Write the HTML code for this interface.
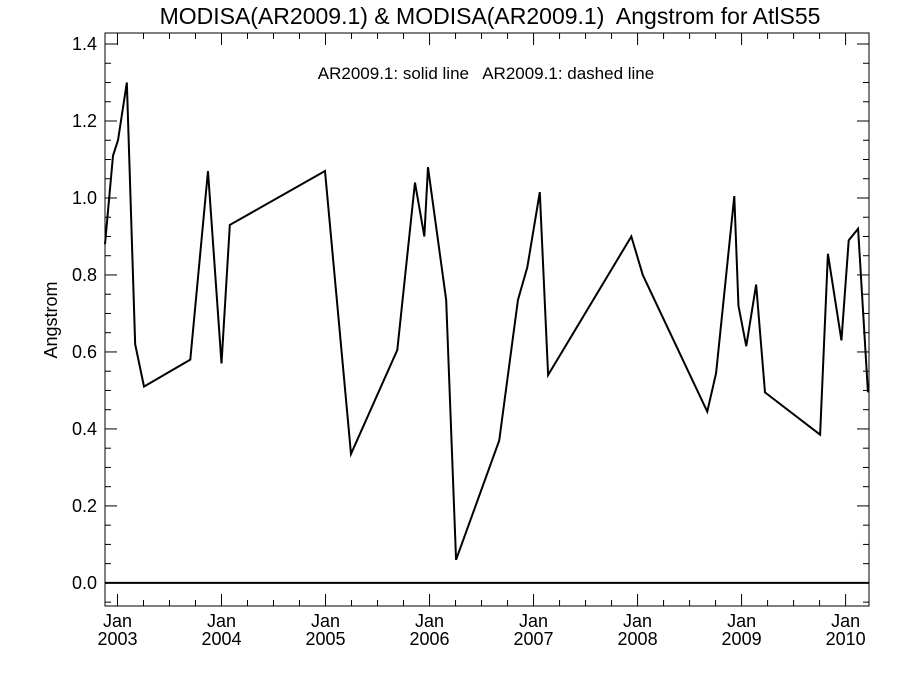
<!DOCTYPE html>
<html><head><meta charset="utf-8"><style>body{margin:0;background:#fff}svg{display:block;font-family:"Liberation Sans",sans-serif}text{white-space:pre}</style></head>
<body>
<svg id="c" width="900" height="675">
<text x="490" y="24" font-size="23" text-anchor="middle">MODISA(AR2009.1) &amp; MODISA(AR2009.1)  Angstrom for AtlS55</text>
<text x="486" y="79" font-size="17" text-anchor="middle">AR2009.1: solid line   AR2009.1: dashed line</text>
<text transform="translate(57,320) rotate(-90)" font-size="18" text-anchor="middle">Angstrom</text>
</svg>
<script>
const times=[2002.88,2002.957,2003.005,2003.09,2003.17,2003.255,2003.70,2003.87,2004.0,2004.08,2004.995,2005.245,2005.69,2005.86,2005.95,2005.985,2006.16,2006.255,2006.67,2006.85,2006.94,2007.06,2007.14,2007.94,2008.05,2008.67,2008.755,2008.93,2008.97,2009.045,2009.14,2009.225,2009.755,2009.83,2009.96,2010.03,2010.12,2010.215];
const values=[0.88,1.11,1.15,1.30,0.62,0.51,0.58,1.07,0.57,0.93,1.07,0.335,0.605,1.04,0.90,1.08,0.735,0.06,0.37,0.735,0.82,1.015,0.54,0.90,0.80,0.445,0.545,1.005,0.72,0.615,0.775,0.495,0.385,0.855,0.63,0.89,0.92,0.495];
const yTicks=[0,0.2,0.4,0.6,0.8,1.0,1.2,1.4];
const yearTicks=[2003,2004,2005,2006,2007,2008,2009,2010];
const L=105,R=869,T=33,B=606,X0=2002.88,X1=2010.225,Y0=-0.06,Y1=1.4286;
const sx=t=>L+(t-X0)/(X1-X0)*(R-L), sy=v=>B-(v-Y0)/(Y1-Y0)*(B-T);
const svg=document.getElementById('c'),NS='http://www.w3.org/2000/svg';
function mk(tag,a){const e=document.createElementNS(NS,tag);for(const k in a)e.setAttribute(k,a[k]);svg.appendChild(e);return e;}
const fr=mk('rect',{x:L,y:T,width:R-L,height:B-T,fill:'none',stroke:'#000','stroke-width':1});


for(let v=-0.05;v<=1.43;v+=0.05){const vv=Math.round(v*100)/100;const maj=Math.abs(vv*5-Math.round(vv*5))<1e-6;const len=maj?12:6;const y=sy(vv);
const t1=mk('line',{x1:L,x2:L+len,y1:y,y2:y,stroke:'#000'});
const t2=mk('line',{x1:R-len,x2:R,y1:y,y2:y,stroke:'#000'});}
yTicks.forEach(v=>{const t=mk('text',{x:L-8,y:sy(v)+6,'font-size':18,'text-anchor':'end'});t.textContent=v.toFixed(1);});
for(let q=2003-0.25;q<=2010.25;q+=0.25){const x=sx(q);if(x<L||x>R)continue;const maj=Math.abs(q-Math.round(q))<1e-6;const len=maj?12:6;
const a=mk('line',{x1:x,x2:x,y1:B,y2:B-len,stroke:'#000'});
const b=mk('line',{x1:x,x2:x,y1:T,y2:T+len,stroke:'#000'});}
yearTicks.forEach(yr=>{const x=sx(yr);const t=mk('text',{x:x,y:B+21,'font-size':18,'text-anchor':'middle'});t.textContent='Jan';
const t2=mk('text',{x:x,y:B+39,'font-size':18,'text-anchor':'middle'});t2.textContent=String(yr);});
const z=mk('line',{x1:L,x2:R,y1:sy(0),y2:sy(0),stroke:'#000','stroke-width':2});


const p=mk('polyline',{points:times.map((t,i)=>sx(t)+','+sy(values[i])).join(' '),fill:'none',stroke:'#000','stroke-width':2,'stroke-linejoin':'miter'});


</script>
</body></html>
